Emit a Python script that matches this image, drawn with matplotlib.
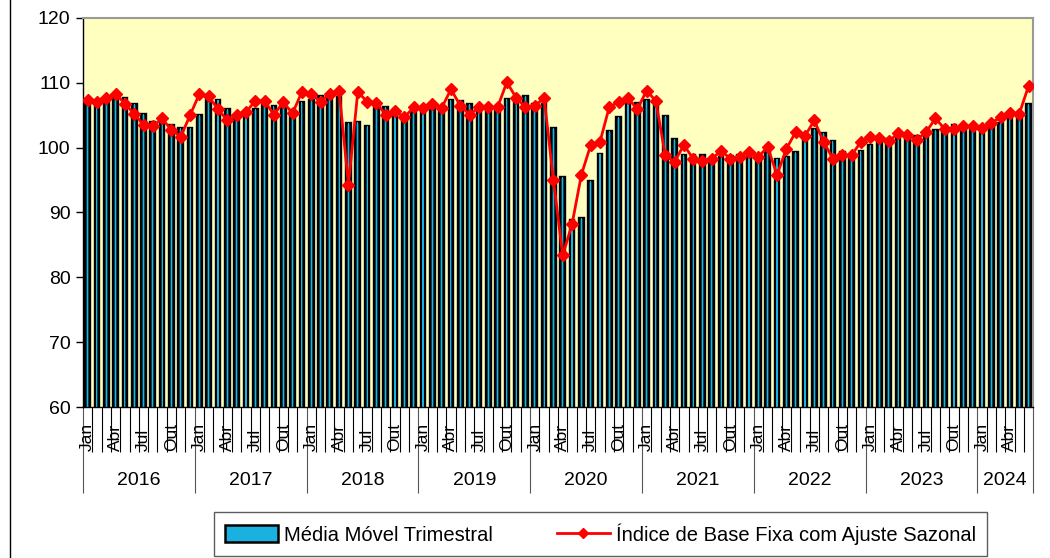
import numpy as np
import matplotlib.pyplot as plt
from matplotlib.patches import Rectangle
from matplotlib.lines import Line2D
import matplotlib.transforms as mtransforms

plt.rcParams['font.family'] = ['Liberation Sans', 'DejaVu Sans']

years = ['2016', '2017', '2018', '2019', '2020', '2021', '2022', '2023', '2024']
month_names = ['Jan', 'Fev', 'Mar', 'Abr', 'Mai', 'Jun', 'Jul', 'Ago', 'Set', 'Out', 'Nov', 'Dez']
n_months = [12, 12, 12, 12, 12, 12, 12, 12, 6]

# Média Móvel Trimestral (bars)
media_movel = [
    107.0, 107.1, 107.4, 107.7, 107.6, 106.8, 105.2, 104.0, 103.8, 103.5, 103.0, 103.1,
    105.0, 107.3, 107.4, 106.0, 105.0, 104.9, 105.9, 106.6, 106.5, 106.4, 105.8, 107.0,
    107.4, 108.0, 107.9, 107.8, 103.8, 103.9, 103.3, 106.8, 106.3, 105.9, 105.1, 105.5,
    105.7, 106.4, 106.3, 107.3, 107.2, 106.8, 105.9, 105.8, 106.2, 107.5, 108.0, 108.0,
    106.7, 106.7, 103.0, 95.4, 88.9, 89.1, 94.8, 99.0, 102.6, 104.8, 107.1, 106.9,
    107.4, 107.2, 104.9, 101.3, 98.9, 98.8, 98.9, 98.2, 98.6, 98.7, 98.8, 98.8,
    98.9, 99.4, 98.2, 98.6, 99.3, 101.3, 102.8, 102.3, 101.1, 99.3, 98.6, 99.5,
    100.4, 101.3, 101.4, 101.6, 101.7, 101.8, 101.8, 102.7, 103.3, 103.5, 103.0, 103.2,
    103.2, 103.3, 103.8, 104.6, 105.1, 106.7,
]

# Índice de Base Fixa com Ajuste Sazonal (line)
indice_ajustado = [
    107.4, 107.1, 107.7, 108.3, 106.8, 105.2, 103.5, 103.3, 104.5, 102.7, 101.7, 105.0,
    108.3, 107.9, 105.9, 104.2, 105.0, 105.5, 107.2, 107.2, 105.1, 107.0, 105.3, 108.6,
    108.3, 107.1, 108.3, 108.7, 94.3, 108.6, 107.1, 106.9, 105.1, 105.6, 104.7, 106.2,
    106.1, 106.8, 106.1, 109.0, 106.5, 105.1, 106.2, 106.2, 106.2, 110.1, 107.7, 106.2,
    106.4, 107.7, 95.0, 83.4, 88.2, 95.8, 100.4, 100.9, 106.3, 107.0, 107.7, 105.9,
    108.8, 107.2, 98.8, 97.8, 100.4, 98.3, 98.0, 98.3, 99.5, 98.3, 98.6, 99.4,
    98.6, 100.1, 95.8, 99.8, 102.4, 101.8, 104.2, 100.9, 98.3, 98.8, 98.8, 100.9,
    101.6, 101.5, 101.0, 102.2, 101.9, 101.2, 102.4, 104.5, 102.9, 102.9, 103.3, 103.3,
    103.0, 103.8, 104.7, 105.4, 105.2, 109.5,
]

x = np.arange(len(media_movel))

fig = plt.figure(figsize=(10.5, 5.58), dpi=100)
ax = fig.add_axes([0.079, 0.2706, 0.905, 0.6972])
ax.set_facecolor('#ffffc0')

ax.bar(x, media_movel, width=0.5, color='#0a4f66', edgecolor='black', linewidth=1.7, zorder=2)
ax.bar(x, media_movel, width=0.12, color='#18b4e0', linewidth=0, zorder=2.5)
ax.plot(x, indice_ajustado, color='#ff0000', linewidth=2, marker='D', markersize=6.5,
        markeredgecolor='#ff0000', zorder=3)

ax.set_ylim(60, 120)
ax.set_yticks(np.arange(60, 121, 10))
ax.set_xlim(-0.5, len(x) - 0.5)
ax.tick_params(axis='y', labelsize=14, length=5, width=1, pad=4, direction='out')

# month boundary ticks (minor) and year boundary ticks (major)
ax.set_xticks(np.arange(-0.5, len(x), 1), minor=True)
starts = np.concatenate([[0], np.cumsum(n_months)]) - 0.5
ax.set_xticks(starts)
ax.set_xticklabels([])
ax.tick_params(axis='x', which='minor', length=32.5, width=0.8, color='black')
ax.tick_params(axis='x', which='major', length=62, width=0.8, color='#555555')

trans = mtransforms.blended_transform_factory(ax.transData, ax.transAxes)
i = 0
for yr, n in zip(years, n_months):
    for m in range(n):
        if m % 3 == 0:
            ax.text(i + m, -0.113, month_names[m], rotation=90, ha='center', va='bottom',
                    fontsize=12.5, transform=trans)
    ax.text(i + (n - 1) / 2, -0.19, yr, ha='center', va='center', fontsize=14, transform=trans)
    i += n

for side in ['top', 'right']:
    ax.spines[side].set_color('#999999')
    ax.spines[side].set_linewidth(1.5)
ax.spines['left'].set_linewidth(1)
ax.spines['bottom'].set_linewidth(1)

# legend
h_bar = Rectangle((0, 0), 1, 1, facecolor='#1ab0e0', edgecolor='black', linewidth=1.8)
h_line = Line2D([], [], color='#ff0000', linewidth=2, marker='D', markersize=5)
leg = fig.legend([h_bar, h_line],
                 ['Média Móvel Trimestral', 'Índice de Base Fixa com Ajuste Sazonal'],
                 loc='center', bbox_to_anchor=(0.572, 0.043), ncol=2, frameon=True,
                 fancybox=False, edgecolor='#333333', handlelength=2.6, handleheight=0.9,
                 handletextpad=0.3, columnspacing=3.2, borderpad=0.55,
                 prop={'family': ['Liberation Sans Narrow', 'Liberation Sans'], 'size': 14.5})
leg.get_frame().set_linewidth(1)

fig.add_artist(Line2D([0.0095, 0.0095], [0, 1], color='black', linewidth=1))

fig.savefig('out.png', dpi=100, facecolor='white')
